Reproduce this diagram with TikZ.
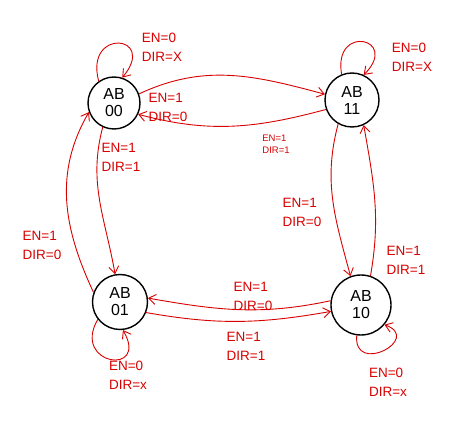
\documentclass[tikz,border=0pt]{standalone}
\usepackage{fontspec}
\setmainfont{Liberation Sans}
\usetikzlibrary{arrows.meta}
\begin{document}
\begin{tikzpicture}[x=1pt,y=-1pt,
  state/.style={draw=black,line width=1.4pt,circle,inner sep=0pt,align=center,font=\fontsize{16}{17}\selectfont},
  edge/.style={draw=red!85!black,line width=0.9pt,-{Straight Barb[length=7pt,width=10pt]}},
  lbl/.style={text=red!85!black,align=left,font=\fontsize{13.5}{19}\selectfont,inner sep=0pt},
  slbl/.style={text=red!85!black,align=left,font=\fontsize{9.5}{12}\selectfont,inner sep=0pt}]
\useasboundingbox (0,0) rectangle (474,438);
\node[state,minimum size=52pt] (n00) at (114,103) {AB\\00};
\node[state,minimum size=54pt] (n11) at (352,100) {AB\\11};
\node[state,minimum size=55pt] (n01) at (120,302) {AB\\01};
\node[state,minimum size=60pt] (n10) at (361,305) {AB\\10};
% self loops
\draw[edge] (n00.125) to[out=105,in=50,looseness=6] (n00.72);
\draw[edge] (n11.112) to[out=100,in=45,looseness=6] (n11.65);
\draw[edge] (n01.218) to[out=240,in=300,looseness=5] (n01.276);
\draw[edge] (n10.262) to[out=265,in=-20,looseness=3.5] (n10.-40);
% top pair
\draw[edge] (n00.20) to[out=25,in=165] (n11.168);
\draw[edge] (n11.200) to[out=195,in=-15] (n00.-25);
% left pair
\draw[edge] (n00.245) to[out=255,in=100] (n01.100);
\draw[edge] (n01.160) to[out=115,in=240] (n00.200);
% right pair
\draw[edge] (n11.240) to[out=255,in=105] (n10.110);
\draw[edge] (n10.72) to[out=80,in=280] (n11.295);
% bottom pair
\draw[edge] (n10.172) to[out=192,in=-10] (n01.8);
\draw[edge] (n01.-22) to[out=-10,in=190] (n10.192);
% labels
\node[lbl] (l1) at (162,47) {EN=0\\DIR=X};
\node[lbl] (l2) at (412,57) {EN=0\\DIR=X};
\node[lbl] (l3) at (168,107) {EN=1\\DIR=0};
\node[slbl] (l4) at (276,144) {EN=1\\DIR=1};
\node[lbl] (l5) at (121,157) {EN=1\\DIR=1};
\node[lbl] (l6) at (42,245) {EN=1\\DIR=0};
\node[lbl] (l7) at (302,212) {EN=1\\DIR=0};
\node[lbl] (l8) at (406,260) {EN=1\\DIR=1};
\node[lbl] (l9) at (253,296) {EN=1\\DIR=0};
\node[lbl] (l10) at (246,346) {EN=1\\DIR=1};
\node[lbl] (l11) at (128,375) {EN=0\\DIR=x};
\node[lbl] (l12) at (388,382) {EN=0\\DIR=x};
\end{tikzpicture}
\end{document}
